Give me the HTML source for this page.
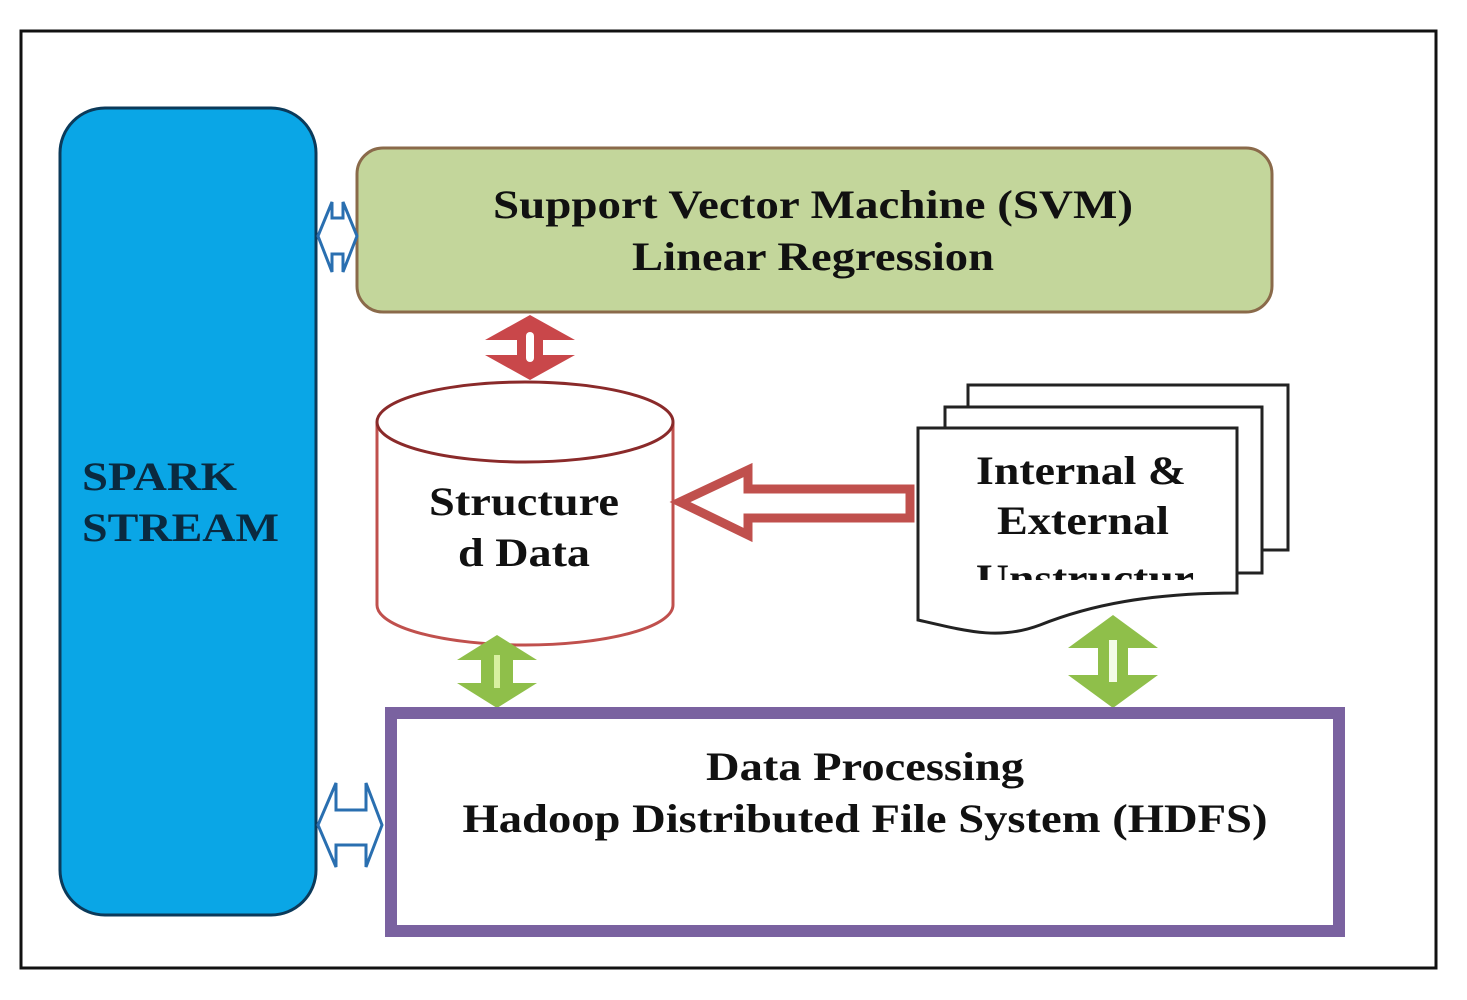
<!DOCTYPE html>
<html><head><style>
html,body{margin:0;padding:0;background:#fff;}
svg{display:block;}
text{font-family:"Liberation Serif",serif;font-weight:bold;}
</style></head><body>
<svg width="1467" height="1000" viewBox="0 0 1467 1000" xmlns="http://www.w3.org/2000/svg">
<rect width="1467" height="1000" fill="#fff"/>
<rect x="21" y="31" width="1415" height="937" fill="#fff" stroke="#111" stroke-width="3"/>
<!-- spark -->
<rect x="60" y="108" width="256" height="807" rx="45" fill="#0aa6e6" stroke="#0b3a5a" stroke-width="3"/>
<text x="82" y="490" font-size="40" fill="#0a2a40" textLength="155" lengthAdjust="spacingAndGlyphs">SPARK</text>
<text x="82" y="541" font-size="40" fill="#0a2a40" textLength="197" lengthAdjust="spacingAndGlyphs">STREAM</text>
<!-- green box -->
<rect x="357" y="148" width="915" height="164" rx="26" fill="#c3d69b" stroke="#8a6a4a" stroke-width="3"/>
<text x="813" y="218" font-size="40" fill="#111" text-anchor="middle" textLength="640" lengthAdjust="spacingAndGlyphs">Support Vector Machine (SVM)</text>
<text x="813" y="270" font-size="40" fill="#111" text-anchor="middle" textLength="362" lengthAdjust="spacingAndGlyphs">Linear Regression</text>
<!-- blue arrows -->
<path d="M318,236 L332,202 L332,218 L343,218 L343,202 L357,236 L343,272 L343,254 L332,254 L332,272 Z" fill="#fff" stroke="#2a6fb0" stroke-width="3"/>
<path d="M318,825 L336,783 L336,810 L366,810 L366,783 L382,825 L366,867 L366,845 L336,845 L336,867 Z" fill="#fff" stroke="#2a6fb0" stroke-width="3"/>
<!-- red double arrow -->
<path d="M530,315 L575,340 L543,340 L543,355 L575,355 L530,380 L485,355 L517,355 L517,340 L485,340 Z" fill="#c9474a"/>
<rect x="526" y="332" width="8" height="30" rx="4" fill="#fff"/>
<!-- cylinder -->
<path d="M377,422 L377,605 A148,40 0 0 0 673,605 L673,422" fill="#fff" stroke="#c0504d" stroke-width="3"/>
<ellipse cx="525" cy="422" rx="148" ry="40" fill="#fff" stroke="#8a2a2a" stroke-width="3"/>
<text x="524" y="515" font-size="40" fill="#111" text-anchor="middle" textLength="190" lengthAdjust="spacingAndGlyphs">Structure</text>
<text x="524" y="566" font-size="40" fill="#111" text-anchor="middle" textLength="132" lengthAdjust="spacingAndGlyphs">d Data</text>
<!-- red hollow arrow -->
<path d="M680,502 L748,470 L748,489 L910,489 L910,518 L748,518 L748,535 Z" fill="#fff" stroke="#c0504d" stroke-width="9" stroke-linejoin="miter"/>
<!-- documents -->
<rect x="968" y="385" width="320" height="165" fill="#fff" stroke="#222" stroke-width="3"/>
<rect x="945" y="407" width="317" height="166" fill="#fff" stroke="#222" stroke-width="3"/>
<path d="M918,428 L1237,428 L1237,593 C1150,593 1090,605 1040,625 C1000,640 970,632 918,620 Z" fill="#fff" stroke="#222" stroke-width="3"/>
<text x="1081" y="484" font-size="40" fill="#111" text-anchor="middle" textLength="210" lengthAdjust="spacingAndGlyphs">Internal &amp;</text>
<text x="1083" y="534" font-size="40" fill="#111" text-anchor="middle" textLength="172" lengthAdjust="spacingAndGlyphs">External</text>
<clipPath id="c"><rect x="920" y="540" width="316" height="40"/></clipPath>
<text x="1085" y="592" font-size="40" fill="#111" text-anchor="middle" textLength="218" lengthAdjust="spacingAndGlyphs" clip-path="url(#c)">Unstructur</text>
<!-- green arrows -->
<path d="M497,635 L537,660 L513,660 L513,683 L537,683 L497,708 L457,683 L481,683 L481,660 L457,660 Z" fill="#8fbf4a"/>
<rect x="494" y="655" width="6" height="33" fill="#d8f0a0"/>
<path d="M1113,615 L1158,648 L1128,648 L1128,675 L1158,675 L1113,708 L1068,675 L1098,675 L1098,648 L1068,648 Z" fill="#8fbf4a"/>
<rect x="1109" y="640" width="8" height="42" fill="#f4fbe6"/>
<!-- purple box -->
<rect x="391" y="713" width="948" height="218" fill="#fff" stroke="#7a62a0" stroke-width="12"/>
<text x="865" y="780" font-size="40" fill="#111" text-anchor="middle" textLength="318" lengthAdjust="spacingAndGlyphs">Data Processing</text>
<text x="865" y="832" font-size="40" fill="#111" text-anchor="middle" textLength="805" lengthAdjust="spacingAndGlyphs">Hadoop Distributed File System (HDFS)</text>
</svg>
</body></html>
